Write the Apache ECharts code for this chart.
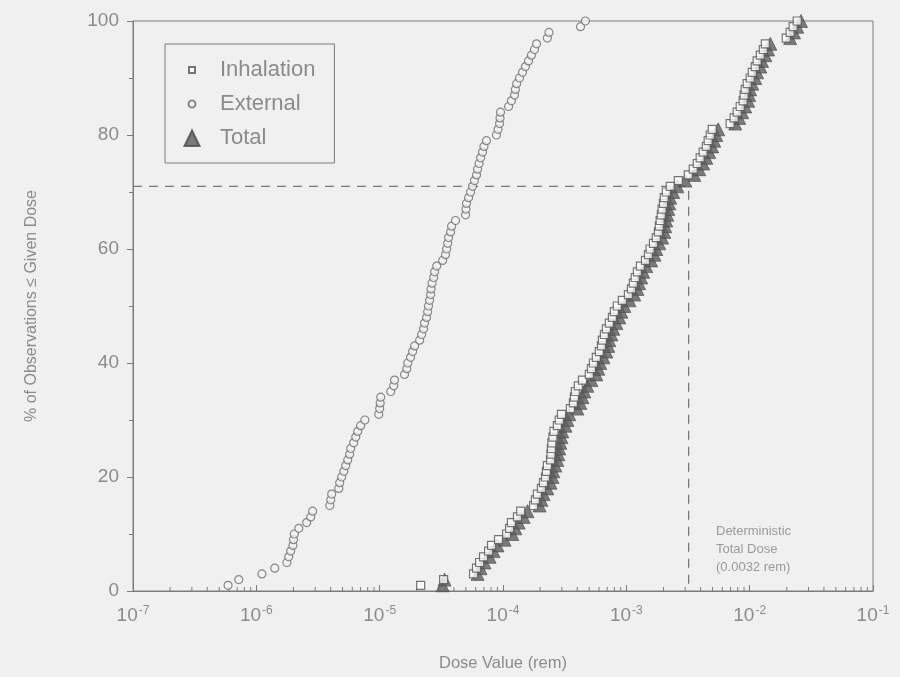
<!DOCTYPE html>
<html>
<head>
<meta charset="utf-8">
<title>Dose distribution</title>
<script src="https://cdn.jsdelivr.net/npm/echarts@6/dist/echarts.min.js"></script>
<style>
  html, body { margin: 0; padding: 0; background: #f0f0f0; }
  #chart { width: 900px; height: 677px; }
</style>
</head>
<body>
<div id="chart"></div>
<script>
// Cumulative percentage of observations (rank of each sorted dose)
const percent = [
  1, 2, 3, 4, 5, 6, 7, 8, 9, 10,
  11, 12, 13, 14, 15, 16, 17, 18, 19, 20,
  21, 22, 23, 24, 25, 26, 27, 28, 29, 30,
  31, 32, 33, 34, 35, 36, 37, 38, 39, 40,
  41, 42, 43, 44, 45, 46, 47, 48, 49, 50,
  51, 52, 53, 54, 55, 56, 57, 58, 59, 60,
  61, 62, 63, 64, 65, 66, 67, 68, 69, 70,
  71, 72, 73, 74, 75, 76, 77, 78, 79, 80,
  81, 82, 83, 84, 85, 86, 87, 88, 89, 90,
  91, 92, 93, 94, 95, 96, 97, 98, 99, 100
];

// Sorted dose values (rem)
const inhalationDose = [
  2.15e-5, 3.30e-5, 5.77e-5, 6.10e-5, 6.46e-5, 6.95e-5, 7.64e-5, 8.07e-5, 9.20e-5, 1.07e-4,
  1.13e-4, 1.17e-4, 1.31e-4, 1.39e-4, 1.77e-4, 1.83e-4, 1.90e-4, 2.05e-4, 2.13e-4, 2.21e-4,
  2.25e-4, 2.29e-4, 2.43e-4, 2.45e-4, 2.47e-4, 2.49e-4, 2.54e-4, 2.59e-4, 2.76e-4, 2.86e-4,
  2.98e-4, 3.52e-4, 3.72e-4, 3.79e-4, 3.86e-4, 4.08e-4, 4.41e-4, 5.01e-4, 5.21e-4, 5.41e-4,
  5.71e-4, 6.04e-4, 6.28e-4, 6.40e-4, 6.64e-4, 6.89e-4, 7.28e-4, 7.71e-4, 8.00e-4, 8.45e-4,
  9.29e-4, 1.04e-3, 1.10e-3, 1.14e-3, 1.18e-3, 1.23e-3, 1.30e-3, 1.43e-3, 1.51e-3, 1.56e-3,
  1.66e-3, 1.75e-3, 1.82e-3, 1.85e-3, 1.88e-3, 1.92e-3, 1.95e-3, 2.00e-3, 2.03e-3, 2.11e-3,
  2.27e-3, 2.64e-3, 3.18e-3, 3.49e-3, 3.76e-3, 3.97e-3, 4.20e-3, 4.45e-3, 4.61e-3, 4.79e-3,
  4.97e-3, 6.95e-3, 7.48e-3, 7.92e-3, 8.38e-3, 8.85e-3, 9.02e-3, 9.20e-3, 9.55e-3, 1.01e-2,
  1.05e-2, 1.11e-2, 1.15e-2, 1.22e-2, 1.29e-2, 1.34e-2, 1.98e-2, 2.13e-2, 2.25e-2, 2.43e-2
];

const externalDose = [
  5.9e-7, 7.2e-7, 1.11e-6, 1.41e-6, 1.77e-6, 1.83e-6, 1.90e-6, 1.98e-6, 2.00e-6, 2.03e-6,
  2.21e-6, 2.56e-6, 2.76e-6, 2.86e-6, 3.94e-6, 4.01e-6, 4.08e-6, 4.66e-6, 4.74e-6, 4.92e-6,
  5.12e-6, 5.31e-6, 5.51e-6, 5.71e-6, 5.82e-6, 6.15e-6, 6.40e-6, 6.64e-6, 7.01e-6, 7.59e-6,
  9.82e-6, 1.00e-5, 1.01e-5, 1.02e-5, 1.23e-5, 1.30e-5, 1.32e-5, 1.59e-5, 1.66e-5, 1.69e-5,
  1.78e-5, 1.85e-5, 1.92e-5, 2.11e-5, 2.19e-5, 2.27e-5, 2.31e-5, 2.40e-5, 2.45e-5, 2.49e-5,
  2.54e-5, 2.59e-5, 2.61e-5, 2.66e-5, 2.74e-5, 2.79e-5, 2.90e-5, 3.24e-5, 3.42e-5, 3.49e-5,
  3.56e-5, 3.62e-5, 3.76e-5, 3.83e-5, 4.12e-5, 4.97e-5, 5.01e-5, 5.06e-5, 5.26e-5, 5.46e-5,
  5.66e-5, 5.87e-5, 6.10e-5, 6.22e-5, 6.40e-5, 6.58e-5, 6.82e-5, 7.01e-5, 7.34e-5, 8.85e-5,
  9.12e-5, 9.38e-5, 9.46e-5, 9.55e-5, 1.11e-4, 1.17e-4, 1.24e-4, 1.26e-4, 1.29e-4, 1.36e-4,
  1.44e-4, 1.52e-4, 1.61e-4, 1.70e-4, 1.80e-4, 1.87e-4, 2.29e-4, 2.36e-4, 4.25e-4, 4.66e-4
];

const totalDose = [
  3.24e-5, 3.36e-5, 6.22e-5, 6.58e-5, 7.08e-5, 7.78e-5, 8.38e-5, 9.02e-5, 1.03e-4, 1.19e-4,
  1.26e-4, 1.34e-4, 1.47e-4, 1.58e-4, 1.98e-4, 2.05e-4, 2.13e-4, 2.29e-4, 2.43e-4, 2.52e-4,
  2.56e-4, 2.66e-4, 2.76e-4, 2.81e-4, 2.86e-4, 2.92e-4, 2.98e-4, 3.03e-4, 3.21e-4, 3.33e-4,
  3.45e-4, 4.01e-4, 4.24e-4, 4.41e-4, 4.57e-4, 4.83e-4, 5.21e-4, 5.71e-4, 5.93e-4, 6.15e-4,
  6.52e-4, 6.89e-4, 7.14e-4, 7.28e-4, 7.57e-4, 7.85e-4, 8.30e-4, 8.77e-4, 9.12e-4, 9.64e-4,
  1.06e-3, 1.16e-3, 1.23e-3, 1.27e-3, 1.32e-3, 1.37e-3, 1.45e-3, 1.59e-3, 1.69e-3, 1.75e-3,
  1.85e-3, 1.95e-3, 2.03e-3, 2.07e-3, 2.11e-3, 2.15e-3, 2.19e-3, 2.23e-3, 2.27e-3, 2.40e-3,
  2.59e-3, 3.01e-3, 3.56e-3, 3.90e-3, 4.20e-3, 4.45e-3, 4.70e-3, 4.97e-3, 5.16e-3, 5.36e-3,
  5.56e-3, 7.64e-3, 8.22e-3, 8.69e-3, 9.20e-3, 9.73e-3, 9.91e-3, 1.01e-2, 1.05e-2, 1.11e-2,
  1.15e-2, 1.22e-2, 1.26e-2, 1.34e-2, 1.41e-2, 1.47e-2, 2.13e-2, 2.29e-2, 2.43e-2, 2.61e-2
];

// Deterministic total dose and the percentile where it falls
const deterministicDose = 0.0032;
const deterministicPercent = 71;

// Axis range and ticks
const doseMin = 1e-7;
const doseMax = 1e-1;
const percentTicks = [0, 20, 40, 60, 80, 100];
const decades = [1e-7, 1e-6, 1e-5, 1e-4, 1e-3, 1e-2];
const minorMultipliers = [2, 3, 4, 5, 6, 7, 8, 9];

const textColor = '#8b8b8b';
const axisColor = '#7c7c7c';
const font = '"Liberation Sans", Arial, sans-serif';

const pairs = (xs) => xs.map((x, i) => [x, percent[i]]);

const minorTickValues = [];
decades.forEach(d => minorMultipliers.forEach(m => minorTickValues.push([d * m, 0])));

const chart = echarts.init(document.getElementById('chart'), null, { renderer: 'canvas' });

chart.setOption({
  backgroundColor: '#f0f0f0',
  animation: false,
  textStyle: { fontFamily: font, color: textColor },
  grid: {
    left: 133, right: 27, top: 21, bottom: 85,
    show: true, borderColor: axisColor, borderWidth: 1, backgroundColor: 'transparent'
  },
  legend: {
    data: [
      { name: 'Inhalation', icon: 'path://M0,0M16,16M5,5L11,5L11,11L5,11Z' },
      { name: 'External', icon: 'path://M0,0M16,16M11.5,8A3.5,3.5,0,1,1,4.5,8A3.5,3.5,0,1,1,11.5,8Z' },
      { name: 'Total', icon: 'path://M0,0M16,16M8,0.5L15.5,16L0.5,16Z' }
    ],
    orient: 'vertical',
    left: 165, top: 44,
    itemWidth: 46, itemHeight: 16, itemGap: 12,
    padding: [15, 19, 14, 18],
    borderColor: axisColor, borderWidth: 1,
    backgroundColor: 'transparent',
    textStyle: { fontSize: 22, color: textColor, fontFamily: font },
    selectedMode: false
  },
  xAxis: {
    type: 'log', logBase: 10, min: doseMin, max: doseMax, interval: 1,
    name: 'Dose Value (rem)', nameLocation: 'middle', nameGap: 64,
    nameTextStyle: { fontSize: 16.5, color: textColor, fontFamily: font },
    axisLine: { lineStyle: { color: axisColor, width: 1 } },
    axisTick: { inside: true, length: 6, lineStyle: { color: axisColor } },
    splitLine: { show: false },
    axisLabel: {
      margin: 14,
      formatter: v => '{b|10}{s|' + Math.round(Math.log10(v)) + '}',
      rich: {
        b: { fontSize: 19, color: textColor, fontFamily: font },
        s: { fontSize: 12, color: textColor, fontFamily: font, padding: [0, 0, 10, 1] }
      }
    }
  },
  yAxis: {
    type: 'value', min: 0, max: 100, interval: 20,
    name: '% of Observations \u2264 Given Dose', nameLocation: 'middle', nameGap: 93,
    nameTextStyle: { fontSize: 16, color: textColor, fontFamily: font },
    axisLine: { show: true, lineStyle: { color: axisColor, width: 1 } },
    axisTick: { show: true, length: 6, lineStyle: { color: axisColor } },
    minorTick: { show: true, splitNumber: 2, length: 4, lineStyle: { color: axisColor } },
    splitLine: { show: false },
    axisLabel: { fontSize: 19, color: textColor, margin: 14, fontFamily: font,
      customValues: percentTicks }
  },
  graphic: [{
    type: 'text', left: 716, top: 522, silent: true,
    style: {
      text: 'Deterministic\nTotal Dose\n(0.0032 rem)',
      fontSize: 13, lineHeight: 18, fill: '#999', fontFamily: font
    }
  }],
  series: [
    {
      name: 'Inhalation', type: 'scatter', z: 4,
      symbol: 'rect', symbolSize: 8,
      itemStyle: { color: '#fbfbfb', borderColor: '#555', borderWidth: 1.2 },
      data: pairs(inhalationDose)
    },
    {
      name: 'External', type: 'scatter', z: 4,
      symbol: 'circle', symbolSize: 8,
      itemStyle: { color: '#f3f3f3', borderColor: '#6d6d6d', borderWidth: 1.2 },
      data: pairs(externalDose)
    },
    {
      name: 'Total', type: 'scatter', z: 3,
      symbol: 'triangle', symbolSize: 13,
      itemStyle: { color: '#5c5c5c', borderColor: '#4a4a4a', borderWidth: 0.8 },
      data: pairs(totalDose)
    },
    {
      name: 'deterministic', type: 'line', z: 2, silent: true,
      symbol: 'none',
      lineStyle: { color: '#777', width: 1.3, type: [9, 7] },
      data: [[doseMin, deterministicPercent], [deterministicDose, deterministicPercent], [deterministicDose, 0]]
    },
    {
      name: 'minorTicks', type: 'custom', z: 2, silent: true,
      renderItem: (params, api) => {
        const p = api.coord([api.value(0), 0]);
        return {
          type: 'line',
          shape: { x1: p[0], y1: p[1], x2: p[0], y2: p[1] - 4 },
          style: { stroke: axisColor, lineWidth: 1 }
        };
      },
      data: minorTickValues
    }
  ]
});
</script>
</body>
</html>
